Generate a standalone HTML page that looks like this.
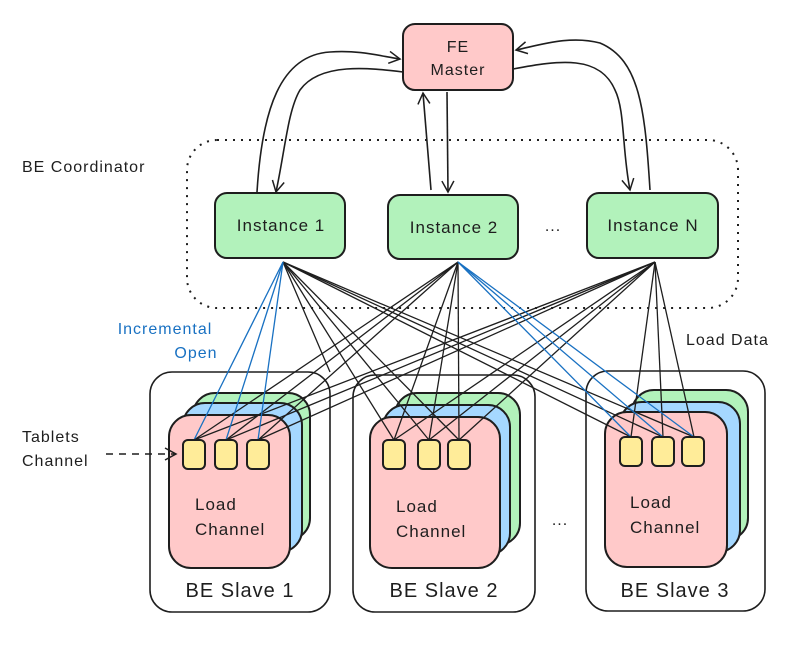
<!DOCTYPE html>
<html><head><meta charset="utf-8"><style>
html,body{margin:0;padding:0;background:#fff}
svg text{font-family:"Liberation Sans",sans-serif;fill:#1e1e1e;letter-spacing:1px}
</style></head><body>
<svg width="811" height="641" viewBox="0 0 811 641" xmlns="http://www.w3.org/2000/svg">
<defs>
<marker id="ah" markerWidth="14" markerHeight="14" refX="12" refY="7" orient="auto" markerUnits="userSpaceOnUse">
<path d="M1,1 L12,7 L1,13" fill="none" stroke="#1e1e1e" stroke-width="1.5"/></marker>
</defs>
<rect x="187" y="140" width="551" height="168" rx="30" fill="none" stroke="#1e1e1e" stroke-width="2" stroke-dasharray="2,6"/>
<text x="22" y="172" font-size="16">BE Coordinator</text>
<rect x="403" y="24" width="110" height="66" rx="12" fill="#ffc9c9" stroke="#1e1e1e" stroke-width="2"/>
<text x="458" y="52" font-size="16" text-anchor="middle">FE</text>
<text x="458" y="75" font-size="16" text-anchor="middle">Master</text>
<g fill="none" stroke="#1e1e1e" stroke-width="1.6">
<path d="M257,192 C262,110 280,55 330,52 C360,50 380,56 400,59" marker-end="url(#ah)"/>
<path d="M403,72 C370,68 320,62 300,90 C288,110 285,150 276,192" marker-end="url(#ah)"/>
<path d="M431,190 L423,93" marker-end="url(#ah)"/>
<path d="M447,92 L448,192" marker-end="url(#ah)"/>
<path d="M650,190 C645,110 640,60 600,43 C570,35 540,45 516,50" marker-end="url(#ah)"/>
<path d="M513,69 C560,60 600,55 615,90 C625,110 622,150 630,190" marker-end="url(#ah)"/>
</g>
<g stroke="#1e1e1e" stroke-width="2" fill="#b2f2bb">
<rect x="215" y="193" width="130" height="65" rx="12"/>
<rect x="388" y="195" width="130" height="64" rx="12"/>
<rect x="587" y="193" width="131" height="65" rx="12"/>
</g>
<text x="281" y="231" font-size="17" text-anchor="middle">Instance 1</text>
<text x="454" y="233" font-size="17" text-anchor="middle">Instance 2</text>
<text x="653" y="231" font-size="17" text-anchor="middle">Instance N</text>
<text x="553" y="231" font-size="16" text-anchor="middle">...</text>
<g fill="none" stroke="#1e1e1e" stroke-width="1.6">
<rect x="150" y="372" width="180" height="240" rx="22"/>
<rect x="353" y="375" width="182" height="237" rx="22"/>
<rect x="586" y="371" width="179" height="240" rx="22"/>
</g>
<g stroke="#1e1e1e" stroke-width="2">
<rect x="193" y="393" width="117" height="147" rx="22" fill="#b2f2bb"/>
<rect x="183" y="403" width="119" height="149" rx="22" fill="#a5d8ff"/>
<rect x="169" y="415" width="121" height="153" rx="22" fill="#ffc9c9"/>
<rect x="395" y="393" width="125" height="152" rx="22" fill="#b2f2bb"/>
<rect x="383" y="405" width="127" height="150" rx="22" fill="#a5d8ff"/>
<rect x="370" y="417" width="130" height="151" rx="22" fill="#ffc9c9"/>
<rect x="632" y="390" width="116" height="150" rx="22" fill="#b2f2bb"/>
<rect x="620" y="402" width="120" height="150" rx="22" fill="#a5d8ff"/>
<rect x="605" y="412" width="122" height="155" rx="22" fill="#ffc9c9"/>
</g>
<g stroke="#1e1e1e" stroke-width="1.3">
<line x1="283" y1="262" x2="394" y2="440"/><line x1="283" y1="262" x2="429" y2="440"/><line x1="283" y1="262" x2="459" y2="440"/>
<line x1="283" y1="262" x2="631" y2="437"/><line x1="283" y1="262" x2="663" y2="437"/><line x1="283" y1="262" x2="694" y2="437"/>
<line x1="283" y1="262" x2="330" y2="372"/>
<line x1="458" y1="262" x2="194" y2="440"/><line x1="458" y1="262" x2="226" y2="440"/><line x1="458" y1="262" x2="258" y2="440"/>
<line x1="458" y1="262" x2="394" y2="440"/><line x1="458" y1="262" x2="429" y2="440"/><line x1="458" y1="262" x2="459" y2="440"/>
<line x1="655" y1="262" x2="194" y2="440"/><line x1="655" y1="262" x2="226" y2="440"/><line x1="655" y1="262" x2="258" y2="440"/>
<line x1="655" y1="262" x2="394" y2="440"/><line x1="655" y1="262" x2="429" y2="440"/><line x1="655" y1="262" x2="459" y2="440"/>
<line x1="655" y1="262" x2="631" y2="437"/><line x1="655" y1="262" x2="663" y2="437"/><line x1="655" y1="262" x2="694" y2="437"/>
</g>
<g stroke="#1971c2" stroke-width="1.3">
<line x1="283" y1="262" x2="194" y2="440"/><line x1="283" y1="262" x2="226" y2="440"/><line x1="283" y1="262" x2="258" y2="440"/>
<line x1="458" y1="262" x2="631" y2="437"/><line x1="458" y1="262" x2="663" y2="437"/><line x1="458" y1="262" x2="694" y2="437"/>
</g>
<g fill="#ffec99" stroke="#1e1e1e" stroke-width="2">
<rect x="183" y="440" width="22" height="29" rx="5"/><rect x="215" y="440" width="22" height="29" rx="5"/><rect x="247" y="440" width="22" height="29" rx="5"/>
<rect x="383" y="440" width="22" height="29" rx="5"/><rect x="418" y="440" width="22" height="29" rx="5"/><rect x="448" y="440" width="22" height="29" rx="5"/>
<rect x="620" y="437" width="22" height="29" rx="5"/><rect x="652" y="437" width="22" height="29" rx="5"/><rect x="682" y="437" width="22" height="29" rx="5"/>
</g>
<g font-size="17">
<text x="195" y="510">Load</text><text x="195" y="535">Channel</text>
<text x="396" y="512">Load</text><text x="396" y="537">Channel</text>
<text x="630" y="508">Load</text><text x="630" y="533">Channel</text>
</g>
<g font-size="20">
<text x="240" y="597" text-anchor="middle">BE Slave 1</text>
<text x="444" y="597" text-anchor="middle">BE Slave 2</text>
<text x="675" y="597" text-anchor="middle">BE Slave 3</text>
</g>
<text x="560" y="525" font-size="16" text-anchor="middle">...</text>
<text x="686" y="345" font-size="16">Load Data</text>
<text x="165" y="334" font-size="16" text-anchor="middle" style="fill:#1971c2">Incremental</text>
<text x="196" y="358" font-size="16" text-anchor="middle" style="fill:#1971c2">Open</text>
<text x="22" y="442" font-size="16">Tablets</text>
<text x="22" y="466" font-size="16">Channel</text>
<path d="M106,454 L176,454" stroke="#1e1e1e" stroke-width="1.6" stroke-dasharray="7,6" fill="none" marker-end="url(#ah)"/>
</svg>
</body></html>
